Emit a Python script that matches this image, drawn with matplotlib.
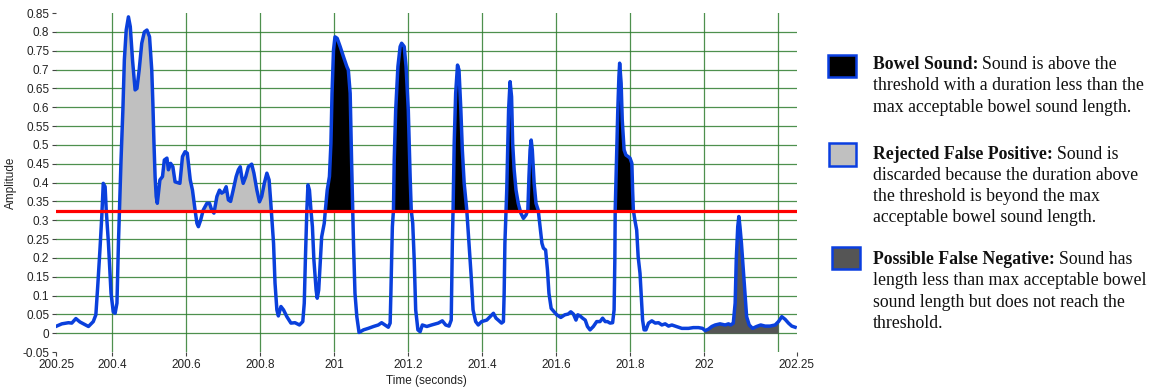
import numpy as np
import matplotlib.pyplot as plt
from matplotlib.patches import Rectangle

# envelope of the recording (seconds, amplitude)
time_s = [
    200.251, 200.265, 200.283, 200.292, 200.303, 200.314, 200.337, 200.350, 200.357, 200.362,
    200.368, 200.373, 200.377, 200.382, 200.385, 200.391, 200.398, 200.404, 200.409, 200.414,
    200.418, 200.422, 200.425, 200.430, 200.434, 200.439, 200.445, 200.450, 200.456, 200.463,
    200.468, 200.474, 200.481, 200.488, 200.495, 200.502, 200.508, 200.511, 200.514, 200.517,
    200.520, 200.523, 200.530, 200.537, 200.542, 200.549, 200.553, 200.559, 200.565, 200.571,
    200.578, 200.584, 200.591, 200.598, 200.604, 200.612, 200.618, 200.625, 200.630, 200.634,
    200.640, 200.647, 200.657, 200.664, 200.670, 200.676, 200.684, 200.691, 200.697, 200.703,
    200.709, 200.715, 200.721, 200.728, 200.736, 200.742, 200.747, 200.751, 200.755, 200.762,
    200.769, 200.778, 200.784, 200.792, 200.799, 200.805, 200.812, 200.819, 200.825, 200.829,
    200.832, 200.837, 200.841, 200.846, 200.850, 200.857, 200.864, 200.873, 200.884, 200.895,
    200.907, 200.916, 200.920, 200.923, 200.927, 200.930, 200.934, 200.938, 200.942, 200.946,
    200.952, 200.955, 200.959, 200.963, 200.967, 200.974, 200.977, 200.982, 200.988, 200.992,
    200.995, 200.999, 201.003, 201.009, 201.017, 201.026, 201.035, 201.039, 201.044, 201.048,
    201.051, 201.053, 201.057, 201.062, 201.068, 201.080, 201.093, 201.107, 201.120, 201.129,
    201.138, 201.147, 201.152, 201.154, 201.158, 201.161, 201.163, 201.167, 201.173, 201.179,
    201.183, 201.190, 201.195, 201.201, 201.206, 201.209, 201.213, 201.217, 201.221, 201.227,
    201.233, 201.239, 201.251, 201.264, 201.282, 201.293, 201.302, 201.311, 201.317, 201.318,
    201.320, 201.322, 201.325, 201.329, 201.334, 201.338, 201.343, 201.347, 201.352, 201.359,
    201.365, 201.371, 201.376, 201.383, 201.390, 201.399, 201.413, 201.422, 201.431, 201.438,
    201.444, 201.453, 201.458, 201.460, 201.462, 201.465, 201.467, 201.470, 201.472, 201.476,
    201.480, 201.483, 201.487, 201.492, 201.498, 201.505, 201.512, 201.519, 201.524, 201.527,
    201.530, 201.533, 201.536, 201.541, 201.546, 201.552, 201.557, 201.562, 201.566, 201.572,
    201.577, 201.581, 201.587, 201.595, 201.602, 201.613, 201.624, 201.633, 201.640, 201.647,
    201.654, 201.659, 201.665, 201.672, 201.679, 201.685, 201.692, 201.701, 201.710, 201.719,
    201.726, 201.733, 201.739, 201.746, 201.753, 201.757, 201.759, 201.760, 201.764, 201.767,
    201.770, 201.772, 201.776, 201.779, 201.784, 201.789, 201.795, 201.800, 201.805, 201.807,
    201.809, 201.813, 201.818, 201.822, 201.827, 201.830, 201.834, 201.838, 201.843, 201.850,
    201.859, 201.868, 201.877, 201.886, 201.895, 201.904, 201.913, 201.922, 201.931, 201.940,
    201.949, 201.958, 201.971, 201.985, 201.996, 202.003, 202.012, 202.021, 202.030, 202.043,
    202.057, 202.066, 202.072, 202.079, 202.084, 202.087, 202.091, 202.094, 202.097, 202.101,
    202.106, 202.111, 202.115, 202.122, 202.131, 202.142, 202.153, 202.165, 202.178, 202.192,
    202.201, 202.210, 202.219, 202.228, 202.237, 202.246,
]
amplitude = [
    0.019, 0.025, 0.028, 0.027, 0.039, 0.030, 0.018, 0.031, 0.049, 0.124,
    0.221, 0.310, 0.398, 0.389, 0.327, 0.239, 0.106, 0.057, 0.053, 0.080,
    0.239, 0.363, 0.460, 0.593, 0.726, 0.805, 0.840, 0.814, 0.726, 0.646,
    0.650, 0.699, 0.770, 0.800, 0.805, 0.787, 0.699, 0.611, 0.504, 0.416,
    0.363, 0.345, 0.407, 0.416, 0.460, 0.465, 0.434, 0.451, 0.442, 0.402,
    0.400, 0.398, 0.469, 0.482, 0.478, 0.407, 0.380, 0.327, 0.292, 0.283,
    0.300, 0.327, 0.345, 0.345, 0.327, 0.319, 0.363, 0.380, 0.372, 0.376,
    0.389, 0.354, 0.350, 0.380, 0.416, 0.434, 0.442, 0.416, 0.398, 0.416,
    0.442, 0.449, 0.425, 0.380, 0.349, 0.363, 0.398, 0.425, 0.407, 0.354,
    0.310, 0.239, 0.133, 0.062, 0.046, 0.071, 0.062, 0.044, 0.027, 0.028,
    0.022, 0.031, 0.080, 0.195, 0.327, 0.394, 0.380, 0.327, 0.283, 0.195,
    0.115, 0.093, 0.115, 0.186, 0.256, 0.292, 0.327, 0.380, 0.416, 0.504,
    0.637, 0.752, 0.787, 0.783, 0.761, 0.734, 0.708, 0.699, 0.637, 0.450,
    0.330, 0.239, 0.106, 0.044, 0.002, 0.009, 0.013, 0.018, 0.022, 0.028,
    0.022, 0.016, 0.027, 0.106, 0.283, 0.327, 0.460, 0.593, 0.708, 0.761,
    0.770, 0.761, 0.708, 0.593, 0.416, 0.327, 0.292, 0.195, 0.062, 0.009,
    0.004, 0.022, 0.018, 0.022, 0.027, 0.033, 0.022, 0.019, 0.035, 0.106,
    0.239, 0.327, 0.504, 0.637, 0.712, 0.699, 0.593, 0.487, 0.398, 0.327,
    0.239, 0.150, 0.062, 0.031, 0.022, 0.031, 0.035, 0.044, 0.053, 0.040,
    0.035, 0.027, 0.031, 0.106, 0.239, 0.327, 0.380, 0.504, 0.593, 0.668,
    0.628, 0.504, 0.434, 0.380, 0.345, 0.319, 0.305, 0.314, 0.327, 0.416,
    0.487, 0.513, 0.487, 0.398, 0.345, 0.327, 0.283, 0.239, 0.226, 0.221,
    0.168, 0.106, 0.066, 0.057, 0.049, 0.042, 0.049, 0.051, 0.057, 0.051,
    0.035, 0.049, 0.046, 0.040, 0.035, 0.018, 0.009, 0.018, 0.031, 0.031,
    0.040, 0.031, 0.031, 0.027, 0.028, 0.062, 0.195, 0.327, 0.478, 0.593,
    0.681, 0.717, 0.664, 0.566, 0.487, 0.473, 0.469, 0.465, 0.451, 0.380,
    0.327, 0.301, 0.274, 0.203, 0.159, 0.106, 0.035, 0.009, 0.009, 0.027,
    0.033, 0.027, 0.028, 0.022, 0.025, 0.019, 0.022, 0.019, 0.016, 0.013,
    0.013, 0.013, 0.015, 0.015, 0.013, 0.007, 0.011, 0.018, 0.022, 0.025,
    0.022, 0.025, 0.022, 0.027, 0.080, 0.195, 0.283, 0.310, 0.283, 0.239,
    0.168, 0.097, 0.044, 0.022, 0.013, 0.018, 0.022, 0.019, 0.019, 0.022,
    0.031, 0.044, 0.037, 0.027, 0.019, 0.016,
]
threshold = 0.324

# time windows for the three kinds of detections
rejected_window = (200.40, 200.85)
bowel_window = (200.95, 201.85)
missed_window = (202.0, 202.2)

x_ticks = [200.25, 200.4, 200.6, 200.8, 201.0, 201.2, 201.4, 201.6, 201.8, 202.0, 202.25]
x_tick_labels = ['200.25', '200.4', '200.6', '200.8', '201', '201.2', '201.4',
                 '201.6', '201.8', '202', '202.25']
y_ticks = [-0.05, 0, 0.05, 0.1, 0.15, 0.2, 0.25, 0.3, 0.35, 0.4, 0.45,
           0.5, 0.55, 0.6, 0.65, 0.7, 0.75, 0.8, 0.85]
y_tick_labels = ['-0.05', '0', '0.05', '0.1', '0.15', '0.2', '0.25', '0.3', '0.35', '0.4',
                 '0.45', '0.5', '0.55', '0.6', '0.65', '0.7', '0.75', '0.8', '0.85']
grid_x = [200.4, 200.6, 200.8, 201.0, 201.2, 201.4, 201.6, 201.8, 202.0, 202.2]
grid_y = [0, 0.05, 0.1, 0.15, 0.2, 0.25, 0.3, 0.35, 0.4, 0.45, 0.5, 0.55,
          0.6, 0.65, 0.7, 0.75, 0.8]

legend_titles = ['Bowel Sound:', 'Rejected False Positive:', 'Possible False Negative:']
legend_lines = [
    ['Sound is above the', 'threshold with a duration less than the',
     'max acceptable bowel sound length.'],
    ['Sound is', 'discarded because the duration above',
     'the threshold is beyond the max', 'acceptable bowel sound length.'],
    ['Sound has', 'length less than max acceptable bowel',
     'sound length but does not reach the', 'threshold.'],
]
legend_colors = ['#000000', '#c0c0c0', '#555555']

t = np.array(time_s)
a = np.array(amplitude)

plt.rcParams['font.family'] = ['Liberation Sans Narrow', 'Liberation Sans', 'DejaVu Sans']

fig = plt.figure(figsize=(11.67, 3.92), dpi=100)
ax = fig.add_axes([0.0482, 0.1018, 0.6344, 0.8648])

grid_color = '#2f7d2f'
for gx in grid_x:
    ax.axvline(gx, color=grid_color, lw=0.9, alpha=0.85, zorder=1)
for gy in grid_y:
    ax.axhline(gy, color=grid_color, lw=0.9, alpha=0.85, zorder=1)

# shaded detections
sel = (a > threshold) & (t >= rejected_window[0]) & (t <= rejected_window[1])
ax.fill_between(t, threshold, a, where=sel, interpolate=True, color='#c0c0c0', lw=0, zorder=2)
sel = (a > threshold) & (t >= bowel_window[0]) & (t <= bowel_window[1])
ax.fill_between(t, threshold, a, where=sel, interpolate=True, color='#000000', lw=0, zorder=2)
seg_t = np.linspace(missed_window[0], missed_window[1], 400)
seg_a = np.interp(seg_t, t, a)
ax.fill_between(seg_t, 0, seg_a, color='#555555', lw=0, zorder=2)

ax.plot(t, a, color='#0a40dc', lw=2.5, zorder=3)
ax.axhline(threshold, color='#ff0000', lw=2.3, zorder=4)

ax.set_xlim(200.25, 202.25)
ax.set_ylim(-0.05, 0.85)
ax.set_xticks(x_ticks)
ax.set_xticklabels(x_tick_labels)
ax.set_yticks(y_ticks)
ax.set_yticklabels(y_tick_labels)
ax.tick_params(direction='out', length=3, width=0.8, color='#444444',
               labelsize=8.5, labelcolor='#222222', pad=2)
for s in ax.spines.values():
    s.set_visible(False)
ax.set_xlabel('Time (seconds)', fontsize=8.5, color='#222222', labelpad=3)
ax.set_ylabel('Amplitude', fontsize=8.5, color='#222222', labelpad=4)

# legend drawn in pixel coordinates of the figure
lg = fig.add_axes([0, 0, 1, 1])
lg.set_xlim(0, 1167)
lg.set_ylim(392, 0)
lg.axis('off')

boxes = [(828, 55, 28, 22), (829, 143, 27, 23), (832, 247, 28, 22)]
baselines = [69, 158.5, 264]
line_step = 21.3
text_x = 873
serif = 'Liberation Serif'
renderer = fig.canvas.get_renderer()
inv = lg.transData.inverted()

for i in range(3):
    bx, by, bw, bh = boxes[i]
    lg.add_patch(Rectangle((bx, by), bw, bh, facecolor=legend_colors[i],
                           edgecolor='#0a3ee0', lw=1.8))
    y0 = baselines[i]
    b = lg.text(text_x, y0, legend_titles[i], family=serif, fontweight='bold',
                fontsize=12.8, va='baseline', ha='left', color='#111111')
    bb = b.get_window_extent(renderer)
    x_end = inv.transform((bb.x1, bb.y0))[0]
    lines = legend_lines[i]
    lg.text(x_end + 4, y0, lines[0], family=serif, fontsize=12.8,
            va='baseline', ha='left', color='#111111')
    for k, line in enumerate(lines[1:], start=1):
        lg.text(text_x, y0 + k * line_step, line, family=serif, fontsize=12.8,
                va='baseline', ha='left', color='#111111')

fig.savefig('out.png', dpi=100)
